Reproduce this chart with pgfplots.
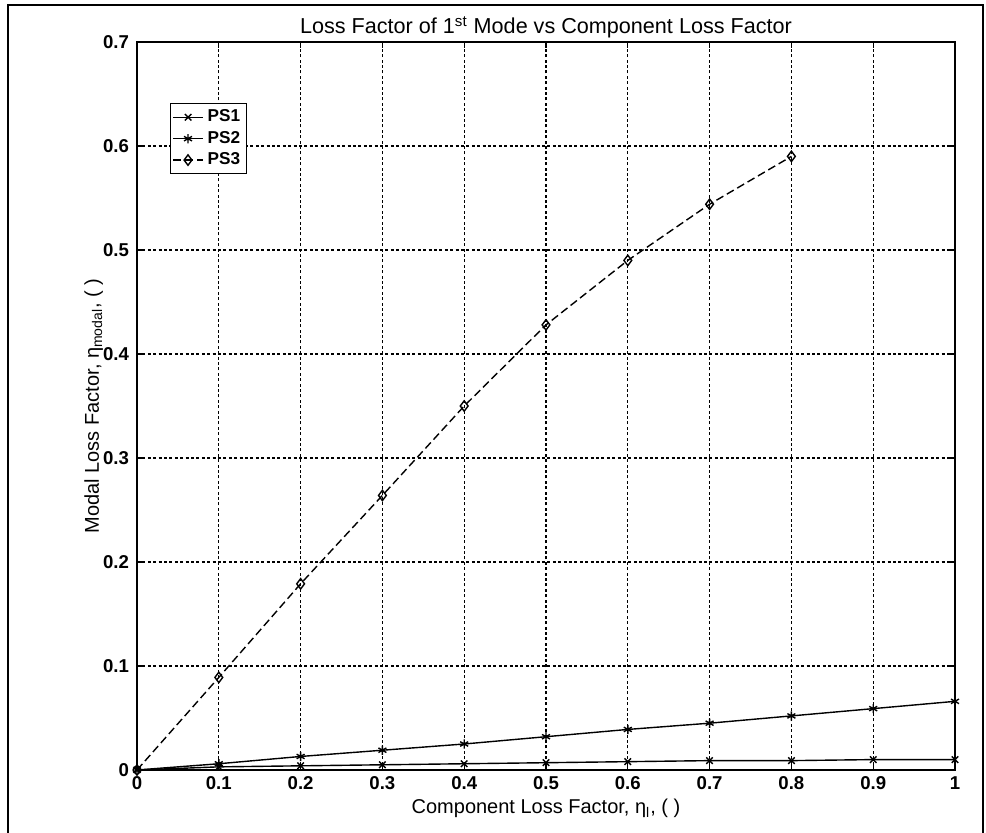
\documentclass[border=0pt]{standalone}
\usepackage{pgfplots}
\pgfplotsset{compat=1.18}
\usepackage{fontspec}
\setmainfont{Liberation Sans}
\begin{document}
\begin{tikzpicture}[x=1pt,y=1pt]
\useasboundingbox (0,0) rectangle (493,416.5);
\draw[line width=1pt] (4,0) -- (4,414) -- (491.5,414) -- (491.5,0);
\begin{axis}[
  at={(68.5pt,31.5pt)}, anchor=south west,
  scale only axis, width=409pt, height=364pt,
  xmin=0, xmax=1, ymin=0, ymax=0.7,
  xtick={0,0.1,0.2,0.3,0.4,0.5,0.6,0.7,0.8,0.9,1},
  xticklabels={0,0.1,0.2,0.3,0.4,0.5,0.6,0.7,0.8,0.9,1},
  ytick={0,0.1,0.2,0.3,0.4,0.5,0.6,0.7},
  yticklabels={0,0.1,0.2,0.3,0.4,0.5,0.6,0.7},
  tick align=inside, major tick length=3pt,
  tick style={black, line width=0.6pt},
  axis line style={line width=0.8pt},
  grid=major,
  major grid style={black, line width=0.6pt, dash pattern=on 1.5pt off 1.2pt},
  ticklabel style={font=\fontsize{9.3}{11}\selectfont\bfseries},
  xticklabel style={anchor=base, yshift=-10pt},
  yticklabel style={xshift=-0.5pt},
  every axis title/.style={at={(axis description cs:0.5,1)}, anchor=base, yshift=4pt, font=\fontsize{10.8}{13}\selectfont},
  title={Loss Factor of 1\textsuperscript{st} Mode vs Component Loss Factor},
  every axis x label/.style={at={(axis description cs:0.5,0)}, anchor=base, yshift=-22pt, font=\fontsize{10}{12}\selectfont},
  xlabel={Component Loss Factor, η\textsubscript{l}, ( )},
  every axis y label/.style={at={(axis description cs:-0.053,0.5)}, anchor=center, rotate=90, font=\fontsize{10}{12}\selectfont},
  ylabel={Modal Loss Factor, η\textsubscript{modal}, ( )},
  legend style={at={(0.040,0.916)}, anchor=north west, draw=black, line width=0.6pt,
    font=\fontsize{8.6}{10.3}\selectfont\bfseries, inner sep=1pt, row sep=-0.8pt,
    cells={anchor=west}},
  legend image code/.code={\draw[mark repeat=2,mark phase=2] plot coordinates {(0pt,0pt) (7.5pt,0pt) (15pt,0pt)};},
  every axis plot/.append style={black, line width=0.7pt},
]
\addplot[mark=x, mark size=2.3pt, mark options={solid}] coordinates {
 (0,0) (0.1,0.003) (0.2,0.004) (0.3,0.005) (0.4,0.006) (0.5,0.007) (0.6,0.008) (0.7,0.009) (0.8,0.009) (0.9,0.010) (1,0.010)};
\addlegendentry{PS1}
\addplot[mark=asterisk, mark size=2.3pt, mark options={solid}] coordinates {
 (0,0) (0.1,0.006) (0.2,0.013) (0.3,0.019) (0.4,0.025) (0.5,0.032) (0.6,0.039) (0.7,0.045) (0.8,0.052) (0.9,0.059) (1,0.066)};
\addlegendentry{PS2}
\addplot[dash pattern=on 4pt off 2pt, mark=diamond, mark size=2.6pt, mark options={solid}] coordinates {
 (0,0) (0.1,0.089) (0.2,0.179) (0.3,0.264) (0.4,0.350) (0.5,0.428) (0.6,0.490) (0.7,0.544) (0.8,0.590)};
\addlegendentry{PS3}
\end{axis}
\end{tikzpicture}
\end{document}
